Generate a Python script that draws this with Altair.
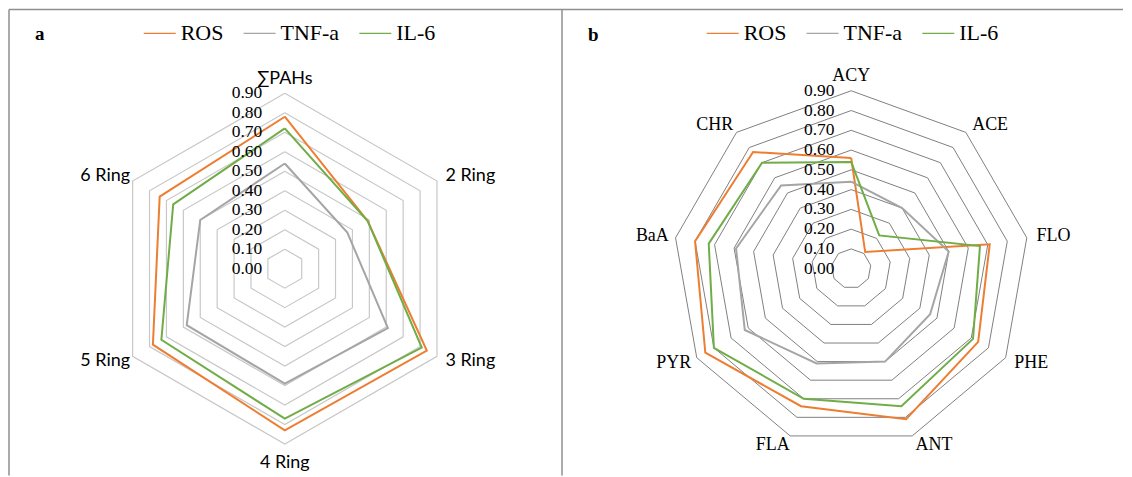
import altair as alt
import pandas as pd

# ---------------- data ----------------
series_names = ["ROS", "TNF-a", "IL-6"]
series_colors = ["#ED7D31", "#A5A5A5", "#70AD47"]

a_categories = ["∑PAHs", "2 Ring", "3 Ring", "4 Ring", "5 Ring", "6 Ring"]
a_ros = [0.78, 0.49, 0.84, 0.83, 0.78, 0.74]
a_tnf = [0.54, 0.37, 0.61, 0.59, 0.58, 0.50]
a_il6 = [0.72, 0.49, 0.81, 0.77, 0.73, 0.66]

b_categories = ["ACY", "ACE", "FLO", "PHE", "ANT", "FLA", "PYR", "BaA", "CHR"]
b_ros = [0.56, 0.11, 0.71, 0.74, 0.81, 0.74, 0.85, 0.80, 0.77]
b_tnf = [0.44, 0.40, 0.50, 0.46, 0.50, 0.51, 0.62, 0.59, 0.55]
b_il6 = [0.54, 0.22, 0.66, 0.71, 0.74, 0.70, 0.80, 0.73, 0.70]

levels = [0.00, 0.10, 0.20, 0.30, 0.40, 0.50, 0.60, 0.70, 0.80, 0.90]

PANEL_H = 468


def radar_panel(cats, series_vals, width, xdom, ydom, grid_color, grid_width,
                cat_font, cat_size, left_dx, tick_dx, legend_x, letter, letter_x, letter_y):
    n = len(cats)
    rows = []
    for name, vals in zip(series_names, series_vals):
        for i in range(n + 1):
            rows.append({"series": name, "category": cats[i % n], "idx": i,
                         "value": vals[i % n]})
    series_df = pd.DataFrame(rows)
    ring_df = pd.DataFrame([{"level": lv, "idx": i}
                            for lv in levels for i in range(n + 1)])
    tick_df = pd.DataFrame({"level": levels})
    label_df = pd.DataFrame({"category": cats, "idx": list(range(n))})
    dummy = pd.DataFrame({"k": [0]})

    theta = f"2*PI*datum.idx/{n}"
    X = alt.X("px:Q", scale=alt.Scale(domain=xdom, nice=False, zero=False), axis=None)
    Y = alt.Y("py:Q", scale=alt.Scale(domain=ydom, nice=False, zero=False), axis=None)

    rings = (alt.Chart(ring_df)
             .transform_filter("datum.level > 0")
             .transform_calculate(px=f"datum.level*sin({theta})",
                                  py=f"datum.level*cos({theta})")
             .mark_line(color=grid_color, strokeWidth=grid_width)
             .encode(x=X, y=Y, detail="level:N", order="idx:Q"))

    lines = (alt.Chart(series_df)
             .transform_calculate(px=f"datum.value*sin({theta})",
                                  py=f"datum.value*cos({theta})")
             .mark_line(strokeWidth=2)
             .encode(x=X, y=Y,
                     color=alt.Color("series:N",
                                     scale=alt.Scale(domain=series_names, range=series_colors),
                                     legend=alt.Legend(title=None, orient="none",
                                                       legendX=legend_x, legendY=8,
                                                       direction="horizontal", columns=3,
                                                       symbolType="stroke", symbolSize=1024,
                                                       symbolStrokeWidth=1.5,
                                                       labelFont="Liberation Serif",
                                                       labelFontSize=22, labelColor="black",
                                                       labelOffset=4, columnPadding=17,
                                                       padding=0)),
                     order="idx:Q"))

    ticks = (alt.Chart(tick_df)
             .transform_calculate(px="0", py="datum.level")
             .mark_text(align="right", baseline="middle", dx=tick_dx,
                        font="Liberation Serif", fontSize=17.5, color="black")
             .encode(x=X, y=Y, text=alt.Text("level:Q", format=".2f")))

    lab_base = (alt.Chart(label_df)
                .transform_calculate(s=f"sin({theta})", c=f"cos({theta})")
                .transform_calculate(px="0.95*datum.s", py="0.95*datum.c"))
    tstyle = dict(font=cat_font, fontSize=cat_size, color="black")
    lab_right = (lab_base.transform_filter("datum.s > 0.01")
                 .mark_text(align="left", baseline="middle", **tstyle)
                 .encode(x=X, y=Y, text="category:N"))
    lab_left = (lab_base.transform_filter("datum.s < -0.01")
                .mark_text(align="right", baseline="middle", dx=left_dx, **tstyle)
                .encode(x=X, y=Y, text="category:N"))
    lab_top = (lab_base.transform_filter("abs(datum.s) <= 0.01 && datum.c > 0")
               .mark_text(align="center", baseline="alphabetic", **tstyle)
               .encode(x=X, y=Y, text="category:N"))
    lab_bot = (lab_base.transform_filter("abs(datum.s) <= 0.01 && datum.c < 0")
               .mark_text(align="center", baseline="top", **tstyle)
               .encode(x=X, y=Y, text="category:N"))

    frame_color = "#8f8f8f"
    frame_left = (alt.Chart(dummy).mark_rule(color=frame_color, strokeWidth=1.5)
                  .encode(x=alt.value(0), y=alt.value(1), y2=alt.value(PANEL_H)))
    frame_top = (alt.Chart(dummy).mark_rule(color=frame_color, strokeWidth=1.5)
                 .encode(x=alt.value(0), x2=alt.value(width), y=alt.value(1)))
    letter_mark = (alt.Chart(dummy)
                   .mark_text(text=letter, font="Liberation Serif", fontSize=19,
                              fontWeight="bold", align="left", baseline="alphabetic",
                              color="black")
                   .encode(x=alt.value(letter_x), y=alt.value(letter_y)))

    return alt.layer(rings, lines, ticks, lab_right, lab_left, lab_top, lab_bot,
                     frame_left, frame_top, letter_mark).properties(width=width, height=PANEL_H)


panel_a = radar_panel(a_categories, [a_ros, a_tnf, a_il6], 554,
                      [-1.4126, 1.4198], [-1.0619, 1.3359],
                      "#c8c8c8", 1.2, "Lato", 18, 6, -22.6, 134, "a", 26, 32)
panel_b = radar_panel(b_categories, [b_ros, b_tnf, b_il6], 562,
                      [-1.4594, 1.3718], [-1.0463, 1.3164],
                      "#808080", 1.0, "Liberation Serif", 18, 3, -16.7, 144, "b", 26, 33)

chart = (alt.hconcat(panel_a, panel_b, spacing=0, bounds="flush")
         .resolve_scale(x="independent", y="independent", color="independent")
         .configure_view(stroke=None)
         .properties(padding=0, background="white"))

chart.save("out.html", embed_options={"renderer": "svg", "actions": False})
